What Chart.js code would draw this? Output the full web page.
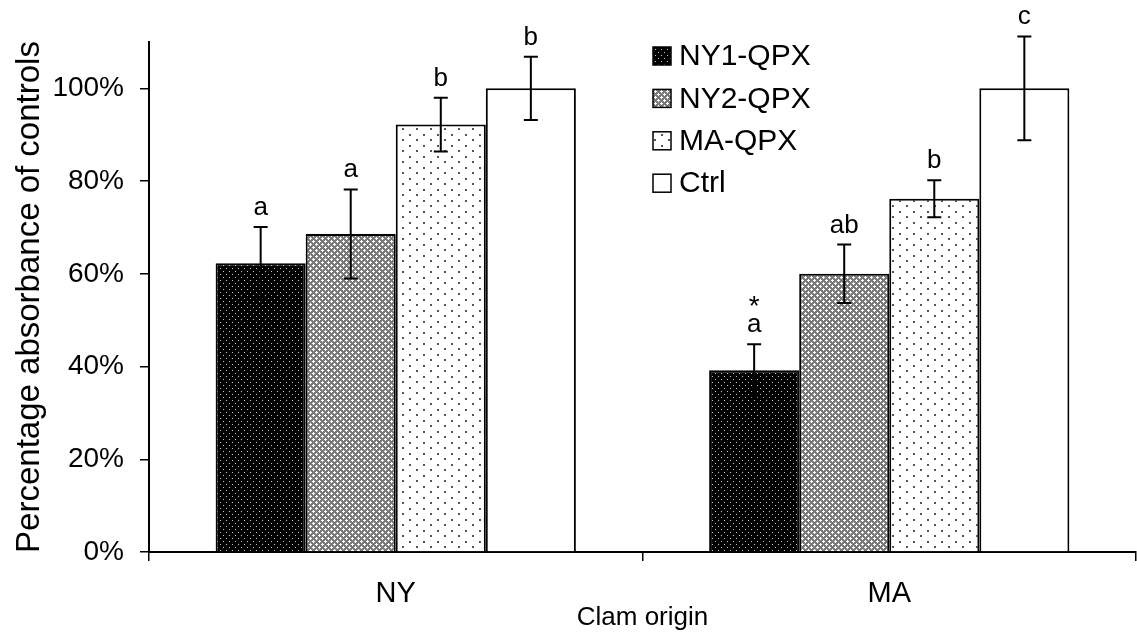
<!DOCTYPE html>
<html>
<head>
<meta charset="utf-8">
<script src="https://cdn.jsdelivr.net/npm/chart.js@4/dist/chart.umd.min.js"></script>
<style>
  html, body { margin: 0; padding: 0; background: #fff; }
  #wrap { width: 1137px; height: 634px; }
</style>
</head>
<body>
<div id="wrap"><canvas id="chart" width="1137" height="634"></canvas></div>
<script>
// clam origins on the x axis
var categories = ['NY', 'MA'];
var seriesNames = ['NY1-QPX', 'NY2-QPX', 'MA-QPX', 'Ctrl'];

// mean % of control absorbance, and the +/- error for each bar
var ny1Values = [62.3, 39.2];
var ny1Errors = [7.8, 5.6];
var ny2Values = [68.6, 60.0];
var ny2Errors = [9.6, 6.3];
var maValues = [92.2, 76.2];
var maErrors = [5.8, 4.0];
var ctrlValues = [100, 100];
var ctrlErrors = [6.8, 11.2];

// significance letters above each bar
var ny1Letters = ['a', '*\na'];
var ny2Letters = ['a', 'ab'];
var maLetters = ['b', 'b'];
var ctrlLetters = ['b', 'c'];

var yTicks = [0, 20, 40, 60, 80, 100];

function makeTile(w, h, draw) {
  var c = document.createElement('canvas');
  c.width = w; c.height = h;
  var g = c.getContext('2d');
  draw(g);
  return document.createElement('canvas').getContext('2d').createPattern(c, 'repeat');
}

// dark dotted fill
var darkDots = makeTile(6, 6, function (g) {
  g.fillStyle = '#000'; g.fillRect(0, 0, 6, 6);
  g.fillStyle = '#c8c8c8';
  g.fillRect(1, 1, 1, 1); g.fillRect(4, 4, 1, 1);
});
// grey checker/diamond fill
var greyCheck = makeTile(6, 6, function (g) {
  g.fillStyle = '#7a7a7a'; g.fillRect(0, 0, 6, 6);
  g.fillStyle = '#fff';
  [[1, 1], [0, 1], [2, 1], [1, 0], [1, 2], [4, 4], [3, 4], [5, 4], [4, 3], [4, 5]].forEach(function (p) {
    g.fillRect(p[0], p[1], 1, 1);
  });
});
// sparse dots on white
var lightDots = makeTile(14, 11, function (g) {
  g.fillStyle = '#fff'; g.fillRect(0, 0, 14, 11);
  g.fillStyle = '#555';
  g.fillRect(3, 2, 2, 2); g.fillRect(10, 7, 2, 2);
});

var fills = [darkDots, greyCheck, lightDots, '#fff'];
var values = [ny1Values, ny2Values, maValues, ctrlValues];
var errors = [ny1Errors, ny2Errors, maErrors, ctrlErrors];
var letters = [ny1Letters, ny2Letters, maLetters, ctrlLetters];

var datasets = seriesNames.map(function (name, i) {
  return {
    label: name,
    data: values[i],
    errors: errors[i],
    letters: letters[i],
    backgroundColor: fills[i],
    borderColor: '#000',
    borderWidth: 2,
    categoryPercentage: 0.73,
    barPercentage: 1.0
  };
});

var FONT = '"Liberation Sans", Arial, sans-serif';

var errorBars = {
  id: 'errorBars',
  afterDatasetsDraw: function (chart) {
    var ctx = chart.ctx;
    var y = chart.scales.y;
    ctx.save();
    ctx.strokeStyle = '#000';
    ctx.lineWidth = 2;
    ctx.fillStyle = '#000';
    ctx.textAlign = 'center';
    ctx.textBaseline = 'alphabetic';
    chart.data.datasets.forEach(function (ds, i) {
      chart.getDatasetMeta(i).data.forEach(function (bar, j) {
        var v = ds.data[j], e = ds.errors[j];
        var top = y.getPixelForValue(v + e);
        var bot = y.getPixelForValue(v - e);
        ctx.beginPath();
        ctx.moveTo(bar.x, top); ctx.lineTo(bar.x, bot);
        ctx.moveTo(bar.x - 7, top); ctx.lineTo(bar.x + 7, top);
        ctx.moveTo(bar.x - 7, bot); ctx.lineTo(bar.x + 7, bot);
        ctx.stroke();
        var lines = ds.letters[j].split('\n').reverse();
        var base = top - 12;
        lines.forEach(function (t) {
          if (t === '*') {
            ctx.font = '28px ' + FONT;
            ctx.fillText(t, bar.x, base + 9);
          } else {
            ctx.font = '26px ' + FONT;
            ctx.fillText(t, bar.x, base);
          }
          base -= 26;
        });
      });
    });
    ctx.restore();
  },
  afterDraw: function (chart) {
    // legend in the upper middle of the plot
    var ctx = chart.ctx;
    ctx.save();
    ctx.font = '30px ' + FONT;
    ctx.textBaseline = 'middle';
    chart.data.datasets.forEach(function (ds, i) {
      var cy = 56 + i * 42.4;
      ctx.fillStyle = ds.backgroundColor;
      ctx.fillRect(653, cy - 9, 18, 18);
      ctx.strokeStyle = '#000';
      ctx.lineWidth = 1.5;
      ctx.strokeRect(653, cy - 9, 18, 18);
      ctx.fillStyle = '#000';
      ctx.fillText(ds.label, 679, cy + 1);
    });
    ctx.restore();
  }
};

Chart.defaults.color = '#000';
Chart.defaults.font.family = FONT;

new Chart(document.getElementById('chart'), {
  type: 'bar',
  data: { labels: categories, datasets: datasets },
  plugins: [errorBars],
  options: {
    responsive: false,
    animation: false,
    layout: { padding: { top: 42, right: 1, left: 0, bottom: 0 } },
    plugins: { legend: { display: false }, tooltip: { enabled: false } },
    scales: {
      x: {
        grid: { drawOnChartArea: false, drawTicks: true, tickLength: 9, color: '#000', lineWidth: 1.5 },
        border: { color: '#000', width: 2 },
        ticks: { font: { size: 29 }, padding: 16 },
        title: { display: true, text: 'Clam origin', font: { size: 26 }, padding: { top: 0, bottom: 1 } },
        afterFit: function (s) { s.height = 82; }
      },
      y: {
        min: 0,
        max: 110,
        grid: { drawOnChartArea: false, drawTicks: true, tickLength: 9, color: '#000', lineWidth: 1.5 },
        border: { color: '#000', width: 2 },
        ticks: {
          stepSize: 20,
          font: { size: 28 },
          padding: 16,
          callback: function (v) { return v + '%'; }
        },
        afterBuildTicks: function (s) {
          s.ticks = yTicks.map(function (v) { return { value: v }; });
        },
        title: { display: true, text: 'Percentage absorbance of controls', font: { size: 33 }, padding: { top: 10, bottom: 0 } },
        afterFit: function (s) { s.width = 149; }
      }
    }
  }
});
</script>
</body>
</html>
